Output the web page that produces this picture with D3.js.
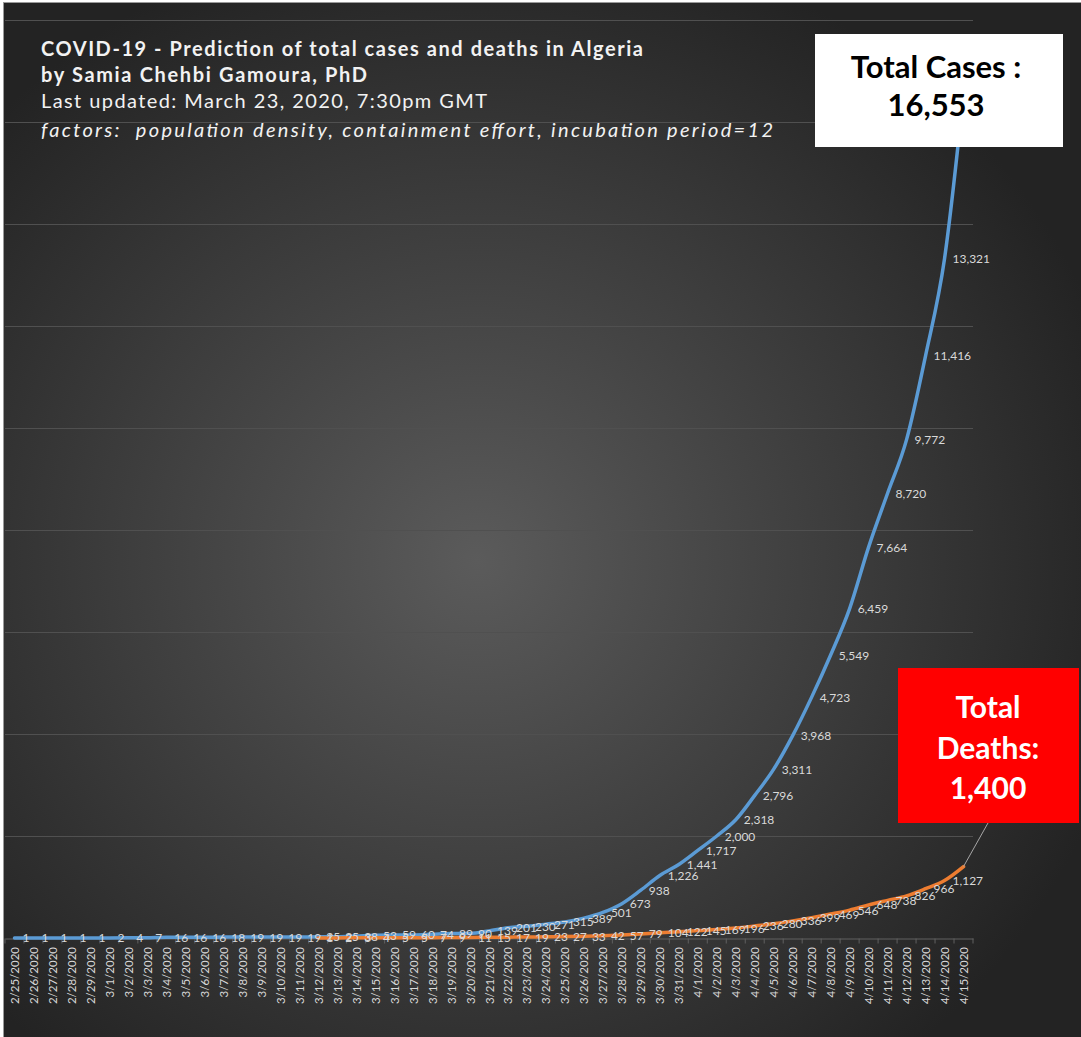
<!DOCTYPE html>
<html>
<head>
<meta charset="utf-8">
<script src="https://d3js.org/d3.v7.min.js"></script>
<style>
  html, body { margin: 0; padding: 0; background: #fff; }
  svg { display: block; }
  text { font-family: Lato, "Open Sans", sans-serif; }
</style>
</head>
<body>
<svg id="chart" width="1081" height="1037"></svg>
<script>
(function() {
  'use strict';

  var dates = ['2/25/2020', '2/26/2020', '2/27/2020', '2/28/2020', '2/29/2020',
    '3/1/2020', '3/2/2020', '3/3/2020', '3/4/2020', '3/5/2020', '3/6/2020', '3/7/2020',
    '3/8/2020', '3/9/2020', '3/10/2020', '3/11/2020', '3/12/2020', '3/13/2020', '3/14/2020',
    '3/15/2020', '3/16/2020', '3/17/2020', '3/18/2020', '3/19/2020', '3/20/2020', '3/21/2020',
    '3/22/2020', '3/23/2020', '3/24/2020', '3/25/2020', '3/26/2020', '3/27/2020', '3/28/2020',
    '3/29/2020', '3/30/2020', '3/31/2020', '4/1/2020', '4/2/2020', '4/3/2020', '4/4/2020',
    '4/5/2020', '4/6/2020', '4/7/2020', '4/8/2020', '4/9/2020', '4/10/2020', '4/11/2020',
    '4/12/2020', '4/13/2020', '4/14/2020', '4/15/2020'];

  var cases = [1, 1, 1, 1, 1, 2, 4, 7, 16, 16, 16, 18, 19, 19, 19, 19, 25, 25, 38, 53,
    59, 60, 74, 89, 90, 139, 201, 230, 271, 315, 389, 501, 673, 938, 1226, 1441, 1717,
    2000, 2318, 2796, 3311, 3968, 4723, 5549, 6459, 7664, 8720, 9772, 11416, 13321, 16553];

  // no deaths before 3/12
  var deaths = [null, null, null, null, null, null, null, null, null, null, null, null,
    null, null, null, null, 1, 2, 3, 4, 5, 5, 7, 9, 11, 15, 17, 19, 23, 27, 33, 42, 57,
    79, 104, 122, 145, 169, 196, 236, 280, 336, 399, 469, 546, 648, 738, 826, 966, 1127, 1400];

  var yTicks = [0, 2000, 4000, 6000, 8000, 10000, 12000, 14000, 16000, 18000];

  var titleLines = [
    {text: 'COVID-19 - Prediction of total cases and deaths in Algeria', weight: 'bold', style: 'normal', len: 602},
    {text: 'by Samia Chehbi Gamoura, PhD', weight: 'bold', style: 'normal', len: 326},
    {text: 'Last updated: March 23, 2020, 7:30pm GMT', weight: 'normal', style: 'normal', len: 446},
    {text: 'factors:  population density, containment effort, incubation period=12', weight: 'normal', style: 'italic', len: 732}
  ];

  var svg = d3.select('#chart');
  var W = 1081, H = 1037;

  var defs = svg.append('defs');
  var grad = defs.append('radialGradient')
    .attr('id', 'bg')
    .attr('cx', '44%').attr('cy', '54%').attr('r', '62%');
  grad.append('stop').attr('offset', '0%').attr('stop-color', '#5b5b5b');
  grad.append('stop').attr('offset', '100%').attr('stop-color', '#232323');

  svg.append('rect')
    .attr('x', 3.5).attr('y', 2.5)
    .attr('width', W - 3).attr('height', H - 2)
    .attr('fill', 'url(#bg)')
    .attr('stroke', '#9a9a9a')
    .attr('stroke-width', 1);

  var plot = {left: 5, right: 973, top: 20, bottom: 938};

  var x = d3.scaleBand()
    .domain(dates)
    .range([plot.left, plot.right])
    .paddingInner(0).paddingOuter(0);

  var y = d3.scaleLinear()
    .domain([0, 18000])
    .range([plot.bottom, plot.top]);

  var cx = function(d, i) { return x(dates[i]) + x.bandwidth() / 2; };

  // gridlines
  svg.append('g')
    .selectAll('line')
    .data(yTicks.slice(1))
    .enter().append('line')
    .attr('x1', plot.left).attr('x2', plot.right)
    .attr('y1', function(d) { return y(d) + 0.5; })
    .attr('y2', function(d) { return y(d) + 0.5; })
    .attr('stroke', '#505050')
    .attr('stroke-width', 1);

  // category axis
  var xAxis = d3.axisBottom(x).tickSize(0).tickFormat('');
  var axisG = svg.append('g')
    .attr('transform', 'translate(0,' + (plot.bottom + 0.5) + ')')
    .call(xAxis);
  axisG.select('.domain').attr('stroke', '#606060');

  axisG.selectAll('line.between')
    .data(dates.concat(['end']))
    .enter().append('line')
    .attr('class', 'between')
    .attr('x1', function(d, i) { return plot.left + i * x.bandwidth(); })
    .attr('x2', function(d, i) { return plot.left + i * x.bandwidth(); })
    .attr('y1', 0).attr('y2', 5)
    .attr('stroke', '#606060');

  svg.append('g')
    .selectAll('text')
    .data(dates)
    .enter().append('text')
    .attr('transform', function(d, i) {
      return 'translate(' + (cx(d, i) + 4.5) + ',' + (plot.bottom + 9) + ') rotate(-90)';
    })
    .attr('text-anchor', 'end')
    .attr('font-size', 11.5)
    .attr('fill', '#d9d9d9')
    .text(function(d) { return d; });

  var line = d3.line()
    .defined(function(d) { return d !== null; })
    .x(cx)
    .y(function(d) { return y(d); })
    .curve(d3.curveMonotoneX);

  var series = [
    {values: cases, color: '#5b9bd5'},
    {values: deaths, color: '#ed7d31'}
  ];

  series.forEach(function(s) {
    svg.append('path')
      .datum(s.values)
      .attr('d', line)
      .attr('fill', 'none')
      .attr('stroke', s.color)
      .attr('stroke-width', 3.5)
      .attr('stroke-linejoin', 'round')
      .attr('stroke-linecap', 'round');
  });

  var fmt = d3.format(',');

  // data labels, last point is replaced by the callout boxes
  series.forEach(function(s) {
    svg.append('g')
      .selectAll('text')
      .data(s.values.map(function(v, i) { return {v: v, i: i}; })
        .filter(function(d) { return d.v !== null && d.i < dates.length - 1; }))
      .enter().append('text')
      .attr('x', function(d) { return cx(null, d.i) + 8; })
      .attr('y', function(d) { return y(d.v) + 4.5; })
      .attr('font-size', 12)
      .attr('fill', '#d9d9d9')
      .text(function(d) { return fmt(d.v); });
  });

  // leader line for deaths callout
  var lastI = dates.length - 1;
  svg.append('line')
    .attr('x1', cx(null, lastI)).attr('y1', y(deaths[lastI]))
    .attr('x2', 988).attr('y2', 823)
    .attr('stroke', '#a6a6a6')
    .attr('stroke-width', 1);

  // callout: total cases
  svg.append('rect')
    .attr('x', 815).attr('y', 34)
    .attr('width', 248).attr('height', 113)
    .attr('fill', '#fff');
  svg.selectAll('text.cases')
    .data(['Total Cases :', fmt(cases[lastI])])
    .enter().append('text')
    .attr('class', 'cases')
    .attr('x', 936)
    .attr('y', function(d, i) { return 78 + i * 38; })
    .attr('text-anchor', 'middle')
    .attr('font-size', 31).attr('font-weight', 'bold')
    .attr('fill', '#000')
    .text(function(d) { return d; });

  // callout: total deaths
  svg.append('rect')
    .attr('x', 898).attr('y', 668)
    .attr('width', 181).attr('height', 155)
    .attr('fill', '#ff0000');
  svg.selectAll('text.deaths')
    .data(['Total', 'Deaths:', fmt(deaths[lastI])])
    .enter().append('text')
    .attr('class', 'deaths')
    .attr('x', 988)
    .attr('y', function(d, i) { return 718 + i * 40.5; })
    .attr('text-anchor', 'middle')
    .attr('font-size', 30).attr('font-weight', 'bold')
    .attr('fill', '#fff')
    .text(function(d) { return d; });

  // titles
  svg.append('g')
    .selectAll('text')
    .data(titleLines)
    .enter().append('text')
    .attr('x', 41)
    .attr('y', function(d, i) { return [56, 82, 108, 137][i]; })
    .attr('font-size', 20)
    .attr('font-weight', function(d) { return d.weight; })
    .attr('font-style', function(d) { return d.style; })
    .attr('textLength', function(d) { return d.len; })
    .attr('lengthAdjust', 'spacing')
    .attr('fill', '#f2f2f2')
    .style('white-space', 'pre')
    .text(function(d) { return d.text; });

})();
</script>
</body>
</html>
